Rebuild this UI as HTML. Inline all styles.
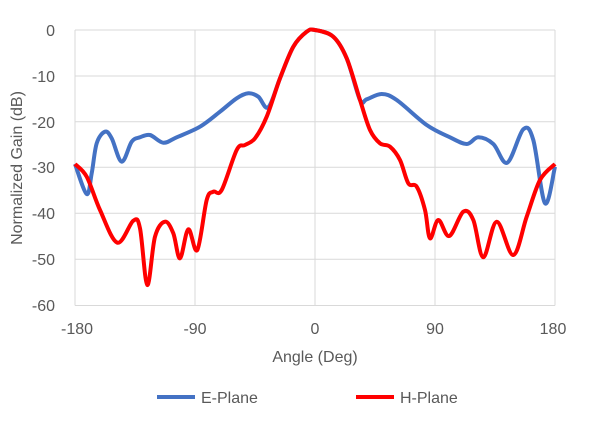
<!DOCTYPE html>
<html><head><meta charset="utf-8"><style>
body{margin:0;background:#fff;}
svg text{font-family:"Liberation Sans",sans-serif;fill:#595959;}
</style></head><body>
<svg id="s" width="600" height="438" xmlns="http://www.w3.org/2000/svg">
<g stroke="#d9d9d9" stroke-width="1">
<line x1="75" y1="30" x2="555" y2="30"/><line x1="75" y1="76" x2="555" y2="76"/>
<line x1="75" y1="121.7" x2="555" y2="121.7"/><line x1="75" y1="167.3" x2="555" y2="167.3"/>
<line x1="75" y1="213.3" x2="555" y2="213.3"/><line x1="75" y1="259.3" x2="555" y2="259.3"/>
<line x1="75" y1="305.5" x2="555" y2="305.5"/>
<line x1="75" y1="30" x2="75" y2="305.5"/><line x1="195" y1="30" x2="195" y2="305.5"/>
<line x1="315" y1="30" x2="315" y2="305.5"/><line x1="435" y1="30" x2="435" y2="305.5"/>
<line x1="555" y1="30" x2="555" y2="305.5"/>
</g>
<g font-size="16" text-anchor="end">
<text x="55" y="36">0</text><text x="55" y="82">-10</text><text x="55" y="128">-20</text>
<text x="55" y="173">-30</text><text x="55" y="219">-40</text><text x="55" y="265">-50</text>
<text x="55" y="311">-60</text></g>
<g font-size="16" text-anchor="middle">
<text x="77" y="334">-180</text><text x="195" y="334">-90</text><text x="315" y="334">0</text>
<text x="435" y="334">90</text><text x="553" y="334">180</text>
<text x="315" y="362">Angle (Deg)</text>
<text transform="translate(22,168) rotate(-90)">Normalized Gain (dB)</text>
</g>
<line x1="157" y1="397" x2="195" y2="397" stroke="#4472c4" stroke-width="4"/>
<text x="201" y="403" font-size="16">E-Plane</text>
<line x1="356" y1="397" x2="394" y2="397" stroke="#ff0000" stroke-width="4"/>
<text x="400" y="403" font-size="16">H-Plane</text>
<path id="b" fill="none" stroke="#4472c4" stroke-width="4" stroke-linejoin="round"/>
<path id="r" fill="none" stroke="#ff0000" stroke-width="4" stroke-linejoin="round"/>
</svg>
<script>
function cr(p){let d="M"+p[0][0]+","+p[0][1];for(let i=0;i<p.length-1;i++){const a=p[i-1]||p[i],b=p[i],c=p[i+1],e=p[i+2]||c;
d+=" C"+(b[0]+(c[0]-a[0])/6)+","+(b[1]+(c[1]-a[1])/6)+" "+(c[0]-(e[0]-b[0])/6)+","+(c[1]-(e[1]-b[1])/6)+" "+c[0]+","+c[1];}return d;}
const lobeL=[[280,78.3],[293.3,46.7],[306.7,31.7],[315,30],[333.3,36.7],[346.7,58.3],[360,100]];
const blue=[[75,164],[86.7,194],[91.7,173.3],[96.7,143.3],[105,131.7],[111.7,138.3],[121.7,161.7],[131.7,141.7],[140,137.3],[150,135],[163.3,142.7],[176.7,137.3],[200,126.7],[220,111.7],[236.7,98.3],[248.3,93.3],[258.3,96.7],[268.3,107.3],
...lobeL,[366.7,99.3],[381.7,94],[396.7,100],[426.7,125],[450,137.3],[466.7,144],[478.3,137.3],[493.3,144],[507.3,162.7],[523.3,129.3],[533.3,140],[545,203.3],[555,166.7]];
const red=[[75,164],[86.7,176.7],[100,210],[117.3,242.7],[133.3,220.7],[140,228.3],[147.3,285],[155,236.7],[165,221.7],[173.3,233.3],[180,258.3],[188.3,229.3],[197.3,250],[206.7,200],[213.3,191.7],[221.7,190],[236.7,150],[245,145],[255,138.3],[266.7,116.7],
...lobeL,[370,130],[380,143.3],[390,146.7],[400,160],[408.3,183.3],[416.7,186.7],[425,210],[430,238.3],[438.3,220],[449.3,236],[463.3,211.7],[473.3,220],[483.3,257.3],[496.7,221.7],[513.3,255],[526.7,216.7],[540,180],[555,164]];
document.getElementById("b").setAttribute("d",cr(blue));
document.getElementById("r").setAttribute("d",cr(red));
</script>
</body></html>
